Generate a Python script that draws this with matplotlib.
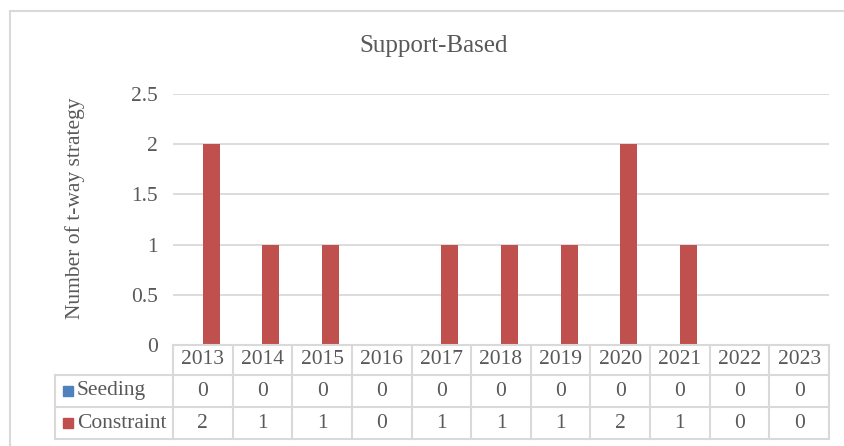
import numpy as np
import matplotlib.pyplot as plt
from matplotlib.lines import Line2D
from matplotlib.patches import Rectangle

years = ["2013", "2014", "2015", "2016", "2017", "2018", "2019", "2020", "2021", "2022", "2023"]
seeding = [0, 0, 0, 0, 0, 0, 0, 0, 0, 0, 0]
constraint = [2, 1, 1, 0, 1, 1, 1, 2, 1, 0, 0]
series_names = ["Seeding", "Constraint"]
series_colors = ["#4F81BD", "#C0504D"]

W, H = 844, 446
plt.rcParams['font.family'] = ['Liberation Serif', 'DejaVu Serif']
text_color = "#595959"
line_color = "#D9D9D9"
fs = 15.5

fig = plt.figure(figsize=(W / 100, H / 100), dpi=100)

def fx(px):
    return px / W

def fy(py):
    return 1 - py / H

# outer chart border (runs off the right and bottom edges)
fig.add_artist(Rectangle((fx(9.5), fy(460)), fx(860), 460 / H - 11 / H,
                         transform=fig.transFigure, fill=False,
                         edgecolor=line_color, lw=1.5))

# plot area
left, right, top, bottom = 173, 829, 94, 345
ax = fig.add_axes([fx(left), fy(bottom), fx(right - left), (bottom - top) / H])

x = np.arange(len(years))
bw = 0.285
ax.bar(x - bw / 2, seeding, bw, color=series_colors[0], zorder=3)
ax.bar(x + bw / 2, constraint, bw, color=series_colors[1], zorder=3)

ax.set_xlim(-0.5, len(years) - 0.5)
ax.set_ylim(0, 2.5)
ax.set_yticks([0, 0.5, 1, 1.5, 2, 2.5])
ax.set_yticklabels(["0", "0.5", "1", "1.5", "2", "2.5"])
ax.yaxis.grid(True, color=line_color, lw=1.3, zorder=0)
ax.set_xticks([])
for s in ax.spines.values():
    s.set_visible(False)
ax.tick_params(axis='y', length=0, pad=11, labelsize=fs, labelcolor=text_color)

fig.text(fx(75), fy(208), "Number of t-way strategy", rotation=90, ha='center',
         va='center', fontsize=fs, color=text_color)
fig.text(fx(434), fy(46), "Support-Based", ha='center', va='center',
         fontsize=18, color=text_color)

# data table below the plot
row_y = [345, 375, 407, 439]
col_w = (right - left) / len(years)
label_left = 55

def hline(y, x0, x1):
    fig.add_artist(Line2D([fx(x0), fx(x1)], [fy(y), fy(y)], color=line_color, lw=1.5))

def vline(xp, y0, y1):
    fig.add_artist(Line2D([fx(xp), fx(xp)], [fy(y0), fy(y1)], color=line_color, lw=1.5))

hline(row_y[0], left, right)
for yy in row_y[1:]:
    hline(yy, label_left, right)
vline(label_left, row_y[1], row_y[3])
for i in range(len(years) + 1):
    vline(left + i * col_w, row_y[0], row_y[3])

for i, yr in enumerate(years):
    cx = left + (i + 0.5) * col_w
    fig.text(fx(cx), fy((row_y[0] + row_y[1]) / 2), yr, ha='center', va='center',
             fontsize=fs, color=text_color)
    fig.text(fx(cx), fy((row_y[1] + row_y[2]) / 2), str(seeding[i]), ha='center',
             va='center', fontsize=fs, color=text_color)
    fig.text(fx(cx), fy((row_y[2] + row_y[3]) / 2), str(constraint[i]), ha='center',
             va='center', fontsize=fs, color=text_color)

for j, name in enumerate(series_names):
    cy = (row_y[j + 1] + row_y[j + 2]) / 2
    fig.add_artist(Rectangle((fx(63), fy(cy + 5)), fx(10), 10 / H,
                             transform=fig.transFigure, color=series_colors[j]))
    fig.text(fx(77), fy(cy), name, ha='left', va='center', fontsize=fs, color=text_color)

fig.savefig("out.png", dpi=100)
